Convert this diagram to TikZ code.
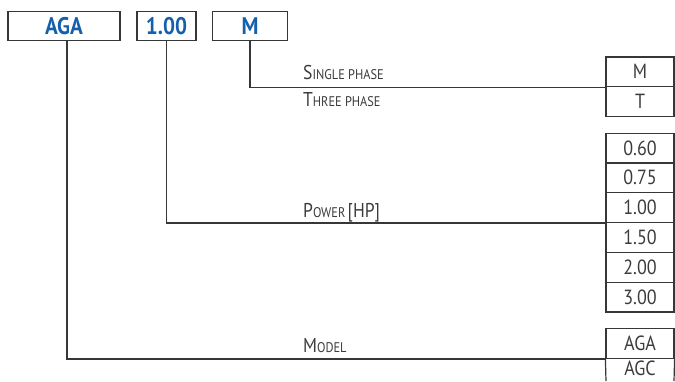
\documentclass[tikz,border=0pt]{standalone}
\usepackage{fontspec}
\setmainfont{PT Sans}[FakeStretch=0.88]
\definecolor{codeblue}{RGB}{20,96,172}
\definecolor{ink}{RGB}{60,60,60}
\definecolor{linecol}{RGB}{55,55,55}
\newcommand{\fsc}[2]{{\fontsize{20pt}{20pt}\selectfont #1}{\fontsize{14pt}{14pt}\selectfont #2}}
\tikzset{
  topbox/.style={draw=linecol, line width=1.2pt, minimum height=29pt, inner sep=0pt,
    text=codeblue, font=\fontsize{24pt}{24pt}\selectfont\bfseries},
  rbox/.style={draw=linecol, line width=1.2pt, minimum width=68pt, minimum height=29.8pt,
    inner sep=0pt, text=ink, font=\fontsize{20.5pt}{20.5pt}\selectfont},
  rtext/.style={inner sep=0pt, text=ink, font=\fontsize{20.5pt}{20.5pt}\selectfont},
  lbl/.style={anchor=base west, inner sep=0pt, text=ink},
  conn/.style={draw=linecol, line width=1.3pt},
  edge line/.style={draw=linecol, line width=1.2pt}
}
\begin{document}
\begin{tikzpicture}[x=1pt,y=-1pt]
\useasboundingbox (0,0) rectangle (675,381);
% top code boxes
\node[topbox, minimum width=112pt] (tA) at (64,26) {AGA};
\node[topbox, minimum width=59pt] (tP) at (166.5,26) {1.00};
\node[topbox, minimum width=75pt] (tM) at (250,26) {M};
% phase boxes
\node[rbox] (rM) at (640,71.8) {M};
\node[rbox] (rT) at (640,101.6) {T};
% power boxes
\node[rbox] (p060) at (640,148) {0.60};
\node[rbox] (p075) at (640,177.8) {0.75};
\node[rbox] (p100) at (640,207.6) {1.00};
\node[rbox] (p150) at (640,237.4) {1.50};
\node[rbox] (p200) at (640,267.2) {2.00};
\node[rbox] (p300) at (640,297) {3.00};
% model boxes (the last one runs off the bottom edge)
\node[rbox] (mA) at (640,343.6) {AGA};
\node[rtext, anchor=base] (mC) at (640,375.5) {AGC};
\coordinate (mCl) at (606,381);
\coordinate (mCr) at (674,381);
\draw[edge line] (mA.south west) -- (mCl);
\draw[edge line] (mA.south east) -- (mCr);
% labels
\node[lbl] (lS) at (303,79) {\fsc{S}{INGLE PHASE}};
\node[lbl] (lT) at (303,106) {\fsc{T}{HREE PHASE}};
\node[lbl] (lP) at (303,217) {\fsc{P}{OWER} {\fontsize{20pt}{20pt}\selectfont [HP]}};
\node[lbl] (lM) at (303,352) {\fsc{M}{ODEL}};
% connectors
\draw[conn] (tM.south) |- (rM.south west);
\draw[conn] (tP.south) |- (p100.south west);
\draw[conn] ([xshift=3pt]tA.south) |- (mA.south west);
\end{tikzpicture}
\end{document}
